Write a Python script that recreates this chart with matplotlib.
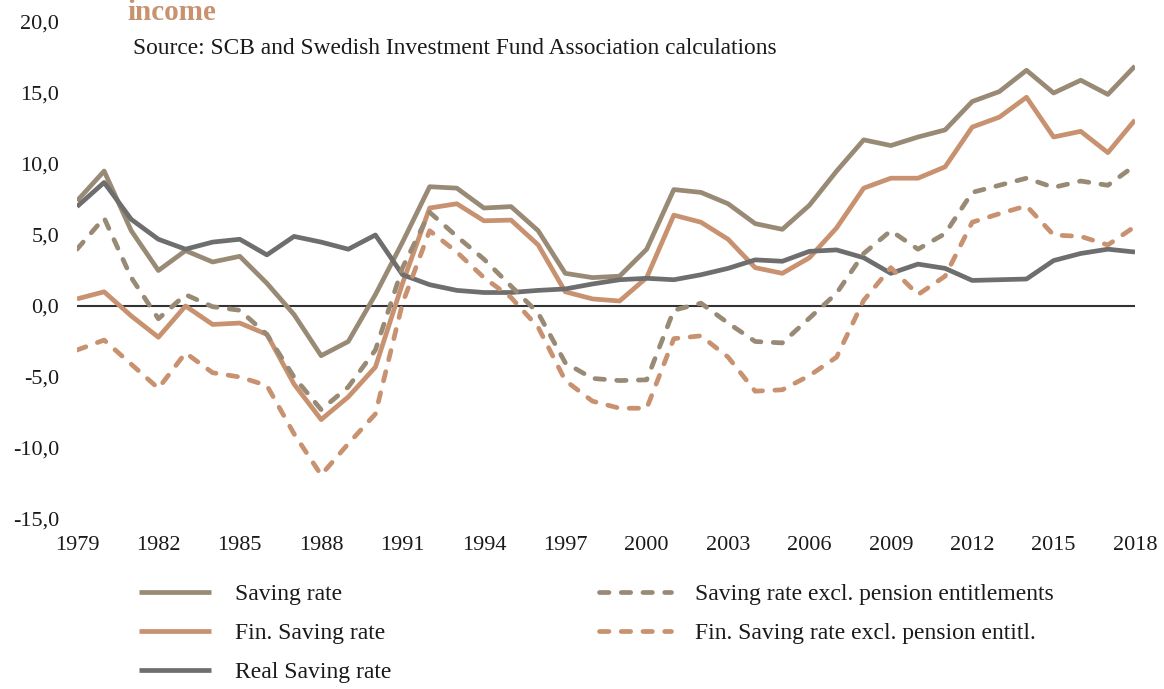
import matplotlib
matplotlib.use("Agg")
import matplotlib.pyplot as plt
from matplotlib.ticker import FuncFormatter

plt.rcParams['font.family'] = ['Liberation Serif', 'DejaVu Serif']

years = list(range(1979, 2019))

saving = [7.4, 9.5, 5.3, 2.5, 3.9, 3.1, 3.5, 1.6, -0.6, -3.5,
          -2.5, 0.8, 4.5, 8.4, 8.3, 6.9, 7.0, 5.3, 2.3, 2.0,
          2.1, 4.0, 8.2, 8.0, 7.2, 5.8, 5.4, 7.1, 9.5, 11.7,
          11.3, 11.9, 12.4, 14.4, 15.1, 16.6, 15.0, 15.9, 14.9, 16.9]

fin_saving = [0.5, 1.0, -0.7, -2.2, 0.0, -1.3, -1.2, -2.0, -5.5, -8.0,
              -6.4, -4.3, 1.6, 6.9, 7.2, 6.0, 6.05, 4.3, 1.0, 0.5,
              0.35, 2.0, 6.4, 5.9, 4.7, 2.7, 2.3, 3.4, 5.5, 8.3,
              9.0, 9.0, 9.8, 12.6, 13.3, 14.7, 11.9, 12.3, 10.8, 13.1]

real_saving = [7.0, 8.7, 6.1, 4.7, 4.0, 4.5, 4.7, 3.6, 4.9, 4.5,
               4.0, 5.0, 2.2, 1.5, 1.1, 0.95, 0.95, 1.1, 1.2, 1.55,
               1.85, 1.95, 1.85, 2.2, 2.65, 3.25, 3.15, 3.85, 3.95, 3.4,
               2.3, 2.95, 2.65, 1.8, 1.85, 1.9, 3.2, 3.7, 4.0, 3.8]

saving_excl = [4.0, 6.2, 2.0, -0.9, 0.8, -0.05, -0.3, -2.0, -5.0, -7.3,
               -5.7, -3.1, 2.7, 6.6, 4.9, 3.3, 1.4, -0.5, -4.0, -5.1,
               -5.25, -5.2, -0.3, 0.2, -1.2, -2.5, -2.6, -0.85, 0.9, 3.7,
               5.3, 4.0, 5.1, 8.0, 8.5, 9.0, 8.35, 8.8, 8.5, 9.9]

fin_excl = [-3.1, -2.4, -4.1, -5.8, -3.3, -4.7, -5.0, -5.6, -9.0, -11.9,
            -9.7, -7.6, 0.2, 5.3, 3.8, 2.0, 0.6, -1.5, -5.25, -6.7,
            -7.2, -7.2, -2.3, -2.1, -3.6, -6.0, -5.9, -4.9, -3.6, 0.4,
            2.7, 0.8, 2.1, 5.9, 6.5, 7.05, 5.0, 4.9, 4.3, 5.6]

labels = ["Saving rate", "Fin. Saving rate", "Real Saving rate",
          "Saving rate excl. pension entitlements", "Fin. Saving rate excl. pension entitl."]

c_taupe = "#998a76"
c_orange = "#c8916f"
c_grey = "#6e6e6e"
txt = "#1a1a1a"

fig = plt.figure(figsize=(11.64, 6.89), dpi=100)
ax = fig.add_axes([77 / 1164, 1 - 519 / 689, (1135 - 77) / 1164, (519 - 22) / 689])

lw = 3.4
dash = dict(linestyle=(0, (2.0, 2.6)), dash_capstyle='round')

l1, = ax.plot(years, saving, color=c_taupe, lw=lw, solid_capstyle='butt')
l2, = ax.plot(years, fin_saving, color=c_orange, lw=lw, solid_capstyle='butt')
l3, = ax.plot(years, real_saving, color=c_grey, lw=lw, solid_capstyle='butt')
l4, = ax.plot(years, saving_excl, color=c_taupe, lw=lw, **dash)
l5, = ax.plot(years, fin_excl, color=c_orange, lw=lw, **dash)

ax.axhline(0, color="#333333", lw=1.5, zorder=0)

ax.set_xlim(1979, 2018)
ax.set_ylim(-15, 20)
ax.set_xticks(range(1979, 2019, 3))
ax.set_yticks(range(-15, 21, 5))
ax.yaxis.set_major_formatter(FuncFormatter(lambda v, p: f"{v:.1f}".replace(".", ",")))
ax.tick_params(length=0, labelsize=16, colors=txt)
ax.tick_params(axis='y', pad=13)
ax.tick_params(axis='x', pad=12)
for s in ax.spines.values():
    s.set_visible(False)
ax.patch.set_alpha(0)

fig.text(127 / 1164, 1 - 20 / 689, "income", fontsize=21, fontweight='bold',
         color=c_orange, va='baseline')
fig.text(133 / 1164, 1 - 54 / 689, "Source: SCB and Swedish Investment Fund Association calculations",
         fontsize=16.8, color=txt, va='baseline')

fig.legend([l1, l2, l3, l4, l5], labels, ncol=2, frameon=False,
           loc='upper left', bbox_to_anchor=(118 / 1164, 1 - 562 / 689),
           fontsize=17, labelcolor=txt, handlelength=3.05, handletextpad=1.0,
           labelspacing=0.75, columnspacing=8.8)

fig.savefig("out.png", dpi=100)
